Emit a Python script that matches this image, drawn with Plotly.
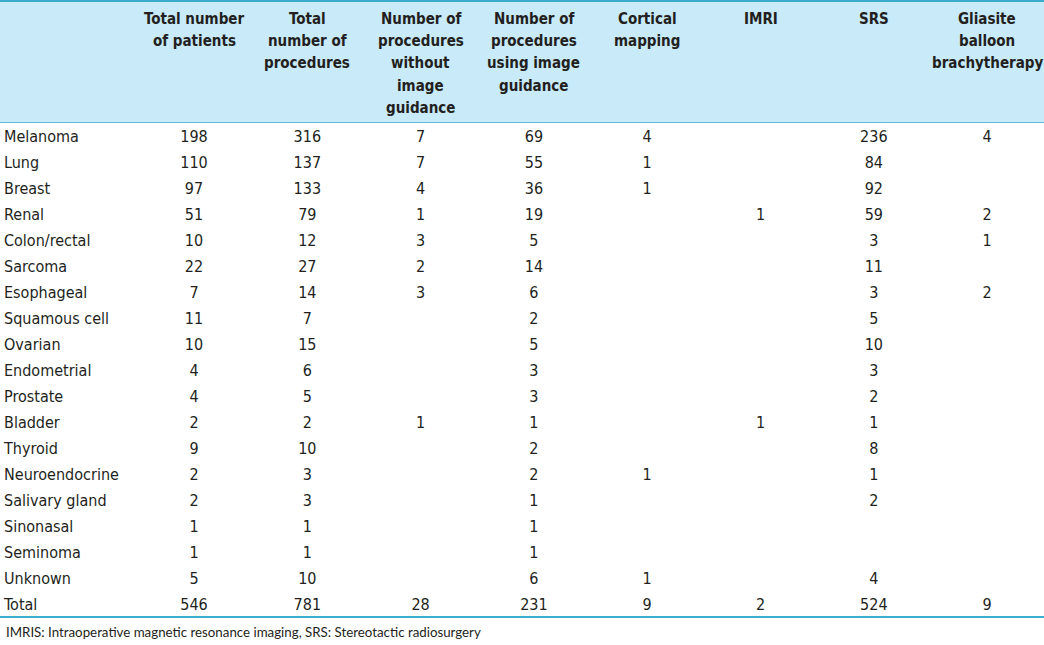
import plotly.graph_objects as go

# ---------------- data ----------------
row_labels = ["Melanoma", "Lung", "Breast", "Renal", "Colon/rectal", "Sarcoma",
              "Esophageal", "Squamous cell", "Ovarian", "Endometrial", "Prostate",
              "Bladder", "Thyroid", "Neuroendocrine", "Salivary gland", "Sinonasal",
              "Seminoma", "Unknown", "Total"]

col_headers = [["Total number", "of patients"],
               ["Total", "number of", "procedures"],
               ["Number of", "procedures", "without", "image", "guidance"],
               ["Number of", "procedures", "using image", "guidance"],
               ["Cortical", "mapping"],
               ["IMRI"],
               ["SRS"],
               ["Gliasite", "balloon", "brachytherapy"]]

total_patients = [198, 110, 97, 51, 10, 22, 7, 11, 10, 4, 4, 2, 9, 2, 2, 1, 1, 5, 546]
total_procedures = [316, 137, 133, 79, 12, 27, 14, 7, 15, 6, 5, 2, 10, 3, 3, 1, 1, 10, 781]
without_guidance = [7, 7, 4, 1, 3, 2, 3, None, None, None, None, 1, None, None, None, None, None, None, 28]
with_guidance = [69, 55, 36, 19, 5, 14, 6, 2, 5, 3, 3, 1, 2, 2, 1, 1, 1, 6, 231]
cortical_mapping = [4, 1, 1, None, None, None, None, None, None, None, None, None, None, 1, None, None, None, 1, 9]
imri = [None, None, None, 1, None, None, None, None, None, None, None, 1, None, None, None, None, None, None, 2]
srs = [236, 84, 92, 59, 3, 11, 3, 5, 10, 3, 2, 1, 8, 1, 2, None, None, 4, 524]
gliasite = [4, None, None, 2, 1, None, 2, None, None, None, None, None, None, None, None, None, None, None, 9]

columns = [total_patients, total_procedures, without_guidance, with_guidance,
           cortical_mapping, imri, srs, gliasite]

footnote = "IMRIS: Intraoperative magnetic resonance imaging, SRS: Stereotactic radiosurgery"

# ---------------- layout constants ----------------
W, H = 1044, 645
COL0_PX, COL_STEP = 194.0, 113.3      # pixel centre of first value column, spacing
ROW0_PX, ROW_STEP = 138.0, 26.0       # pixel centre of first row, spacing
HEAD0_PX, HEAD_STEP = 18.5, 22.4      # header line centres

def px_to_x(p):
    return 1 + (p - COL0_PX) / COL_STEP

def px_to_y(p):
    return (p - ROW0_PX) / ROW_STEP

FONT = "DejaVu Sans Condensed, Liberation Sans Narrow, sans-serif"
TXT = "#231f20"
LINE = "#3aaecd"
BAND = "#c8eaf9"

fig = go.Figure()

row_idx = list(range(len(row_labels)))

# row labels (left aligned)
fig.add_trace(go.Scatter(
    x=[px_to_x(4)] * len(row_labels), y=row_idx, mode="text",
    text=row_labels, textposition="middle right",
    textfont=dict(family=FONT, size=16, color=TXT),
    hoverinfo="skip", showlegend=False))

# value columns
for ci, vals in enumerate(columns):
    ys = [r for r, v in zip(row_idx, vals) if v is not None]
    ts = [str(v) for v in vals if v is not None]
    fig.add_trace(go.Scatter(
        x=[ci + 1] * len(ys), y=ys, mode="text", text=ts,
        textposition="middle center",
        textfont=dict(family=FONT, size=16, color=TXT),
        hoverinfo="skip", showlegend=False))

# header texts, one line at a time
for ci, lines in enumerate(col_headers):
    for li, line in enumerate(lines):
        fig.add_annotation(x=ci + 1, y=px_to_y(HEAD0_PX + li * HEAD_STEP), xref="x", yref="y",
                           text="<b>" + line + "</b>", showarrow=False,
                           xanchor="center", yanchor="middle",
                           font=dict(family=FONT, size=15, color=TXT))

# footnote
fig.add_annotation(x=px_to_x(4), y=px_to_y(632), xref="x", yref="y",
                   text=footnote, showarrow=False, xanchor="left", yanchor="middle",
                   font=dict(family="Lato, Open Sans, sans-serif", size=13.3, color=TXT))

# header band and rules
fig.add_shape(type="rect", xref="paper", yref="y", x0=0, x1=1,
              y0=px_to_y(0), y1=px_to_y(122), fillcolor=BAND, line_width=0, layer="below")
fig.add_shape(type="line", xref="paper", yref="y", x0=0, x1=1,
              y0=px_to_y(1), y1=px_to_y(1), line=dict(color=LINE, width=2))
fig.add_shape(type="line", xref="paper", yref="y", x0=0, x1=1,
              y0=px_to_y(122.5), y1=px_to_y(122.5), line=dict(color="#5fbfd8", width=1))
fig.add_shape(type="line", xref="paper", yref="y", x0=0, x1=1,
              y0=px_to_y(617), y1=px_to_y(617), line=dict(color=LINE, width=2))

fig.update_layout(
    width=W, height=H, margin=dict(l=0, r=0, t=0, b=0),
    paper_bgcolor="white", plot_bgcolor="white",
    xaxis=dict(range=[px_to_x(0), px_to_x(W)], visible=False, fixedrange=True),
    yaxis=dict(range=[px_to_y(H), px_to_y(0)], visible=False, fixedrange=True),
)

fig.write_html("out.html", config={"displayModeBar": False},
               post_script="document.body.style.margin='0';document.body.style.overflow='hidden';")
